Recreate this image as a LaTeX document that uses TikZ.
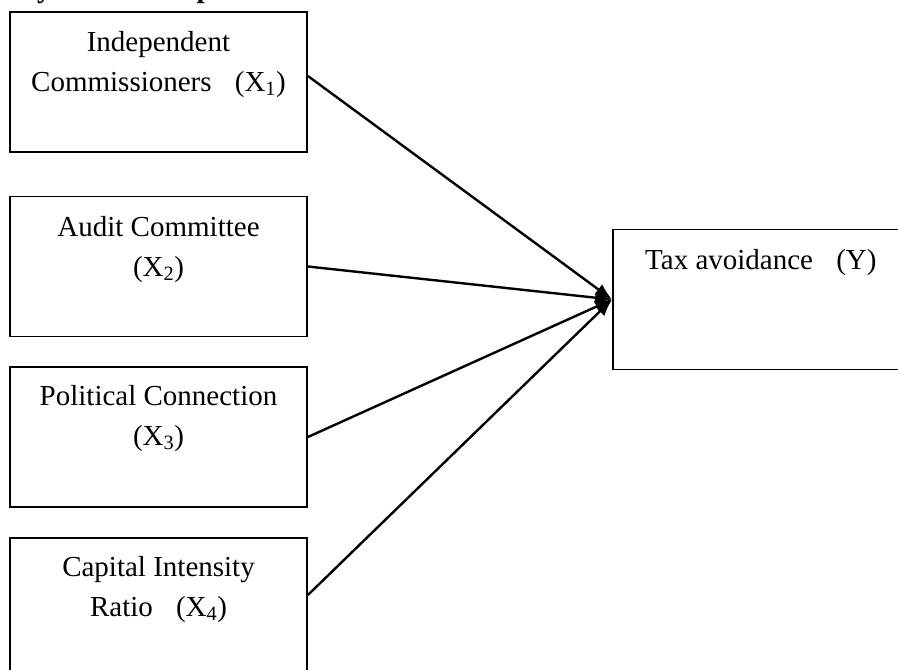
\documentclass[tikz,border=0pt]{standalone}
\usepackage{fontspec}
\setmainfont{Liberation Serif}
\usetikzlibrary{arrows.meta,calc}
\begin{document}
\begin{tikzpicture}[x=1pt,y=-1pt,
  box/.style={draw, line width=1.8pt, minimum width=297pt, minimum height=140pt, inner sep=0pt},
  lbl/.style={anchor=base, align=center, inner sep=0pt, font=\fontsize{29}{40}\selectfont},
  link/.style={line width=2.4pt, -{Latex[length=17pt,width=13pt]}}]
\clip (0,0) rectangle (898,670);
\fill[white] (0,0) rectangle (898,670);
\node[anchor=base west, inner sep=0pt, font=\fontsize{29}{40}\selectfont\bfseries] (title) at (8,-3) {sity ratio has a positive effect on tax avoidance};
\node[box] (b1) at (158.5,82) {};
\node[box] (b2) at (158.5,266.5) {};
\node[box] (b3) at (158.5,437) {};
\node[box] (b4) at (158.5,608) {};
\node[box, minimum width=320pt] (y) at (773,299.5) {};
\node[lbl] (t1) at (158.5,91) {Independent\\Commissioners\hspace{0.8em}(X\textsubscript{1})};
\node[lbl] (t2) at (158.5,276) {Audit Committee\\(X\textsubscript{2})};
\node[lbl] (t3) at (158.5,445) {Political Connection\\(X\textsubscript{3})};
\node[lbl] (t4) at (158.5,616) {Capital Intensity\\Ratio\hspace{0.8em}(X\textsubscript{4})};
\node[lbl, anchor=base west] (ty) at (645,269) {Tax avoidance\hspace{0.8em}(Y)};
\draw[link] ($(b1.east)+(0,-6)$) -- (y.west);
\draw[link] (b2.east) -- (y.west);
\draw[link] (b3.east) -- (y.west);
\draw[link] ($(b4.east)+(0,-13)$) -- (y.west);
\end{tikzpicture}
\end{document}
